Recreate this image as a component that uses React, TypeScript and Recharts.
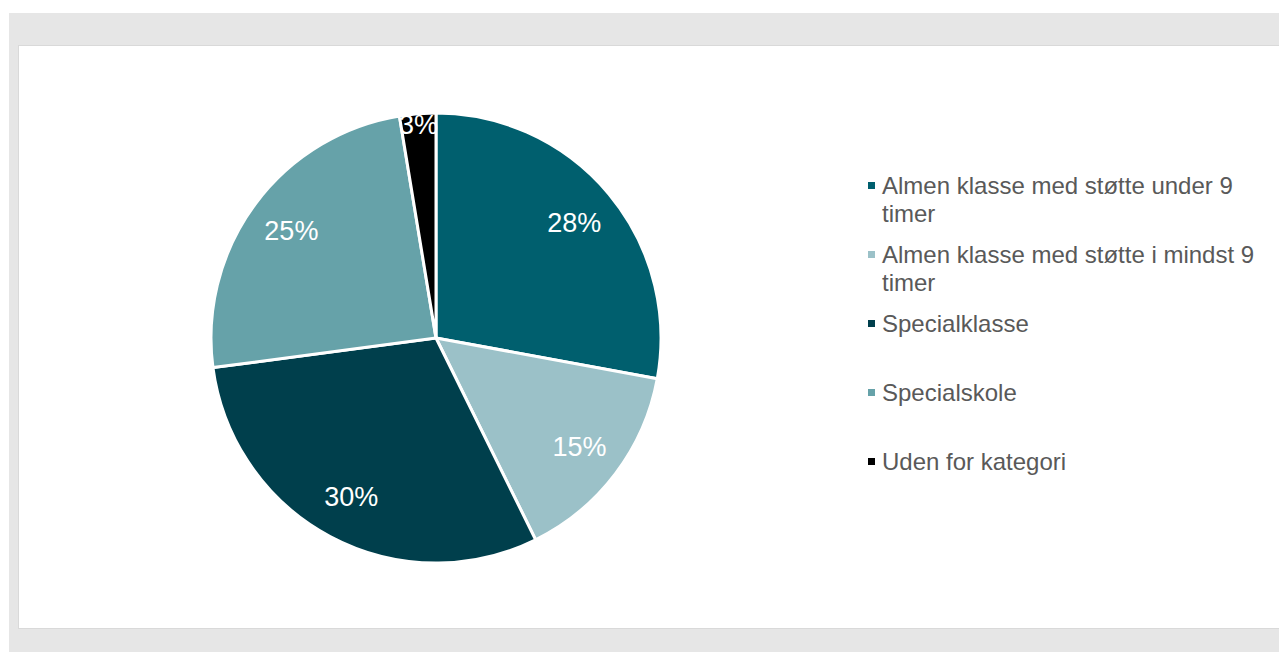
import React from 'react';
import { PieChart, Pie, Cell, Legend } from 'recharts';

const categories = [
    'Almen klasse med støtte under 9 timer',
    'Almen klasse med støtte i mindst 9 timer',
    'Specialklasse',
    'Specialskole',
    'Uden for kategori',
];
const shares = [27.9, 14.8, 30.2, 24.5, 2.6];
const colors = ['#005F6E', '#9BC1C8', '#003F4C', '#66A2A9', '#000000'];

const data = categories.map((name, i) => ({ name, value: shares[i] }));

const RADIAN = Math.PI / 180;
const FONT = '"Liberation Sans", Arial, sans-serif';

const renderLabel = ({ cx, cy, midAngle, outerRadius, percent }: any) => {
    // small slices get their label pushed out to the rim, like Excel's best fit
    const r = percent < 0.05 ? outerRadius * 0.95 : outerRadius * 0.8;
    const x = cx + r * Math.cos(-midAngle * RADIAN);
    const y = cy + r * Math.sin(-midAngle * RADIAN);
    return (
        <text x={x} y={y} fill="#ffffff" textAnchor="middle" dominantBaseline="central"
            fontSize={27} fontFamily={FONT}>
            {`${Math.round(percent * 100)}%`}
        </text>
    );
};

const renderLegend = () => (
    <div style={{ fontFamily: FONT, fontSize: 24, lineHeight: '28px', color: '#595959' }}>
        {categories.map((name, i) => (
            <div key={name} style={{ height: 69, display: 'flex', alignItems: 'flex-start' }}>
                <span style={{ width: 7, height: 7, background: colors[i], marginTop: 10, marginRight: 7, flexShrink: 0 }} />
                <span style={{ width: 375 }}>{name}</span>
            </div>
        ))}
    </div>
);

const App: React.FC = () => {
    return (
        <div style={{ position: 'absolute', left: 0, top: 0, width: 1279, height: 652, background: '#ffffff', overflow: 'hidden' }}>
            <div style={{ position: 'absolute', left: 9, top: 13, width: 1280, height: 650, background: '#e6e6e6' }} />
            <div style={{ position: 'absolute', left: 18, top: 45, width: 1270, height: 582, background: '#ffffff', border: '1px solid #d9d9d9' }}>
                <PieChart width={1262} height={581} margin={{ top: 0, right: 0, bottom: 0, left: 0 }}>
                    <Pie
                        data={data}
                        dataKey="value"
                        nameKey="name"
                        cx={417}
                        cy={292}
                        outerRadius={225}
                        startAngle={90}
                        endAngle={-270}
                        stroke="#ffffff"
                        strokeWidth={3}
                        label={renderLabel}
                        labelLine={false}
                        isAnimationActive={false}
                    >
                        {data.map((d, i) => (
                            <Cell key={d.name} fill={colors[i]} />
                        ))}
                    </Pie>
                    <Legend
                        layout="vertical"
                        align="right"
                        verticalAlign="top"
                        width={400}
                        content={renderLegend}
                        wrapperStyle={{ left: 849, right: 'auto', top: 126 }}
                    />
                </PieChart>
            </div>
        </div>
    );
};

export default App;
